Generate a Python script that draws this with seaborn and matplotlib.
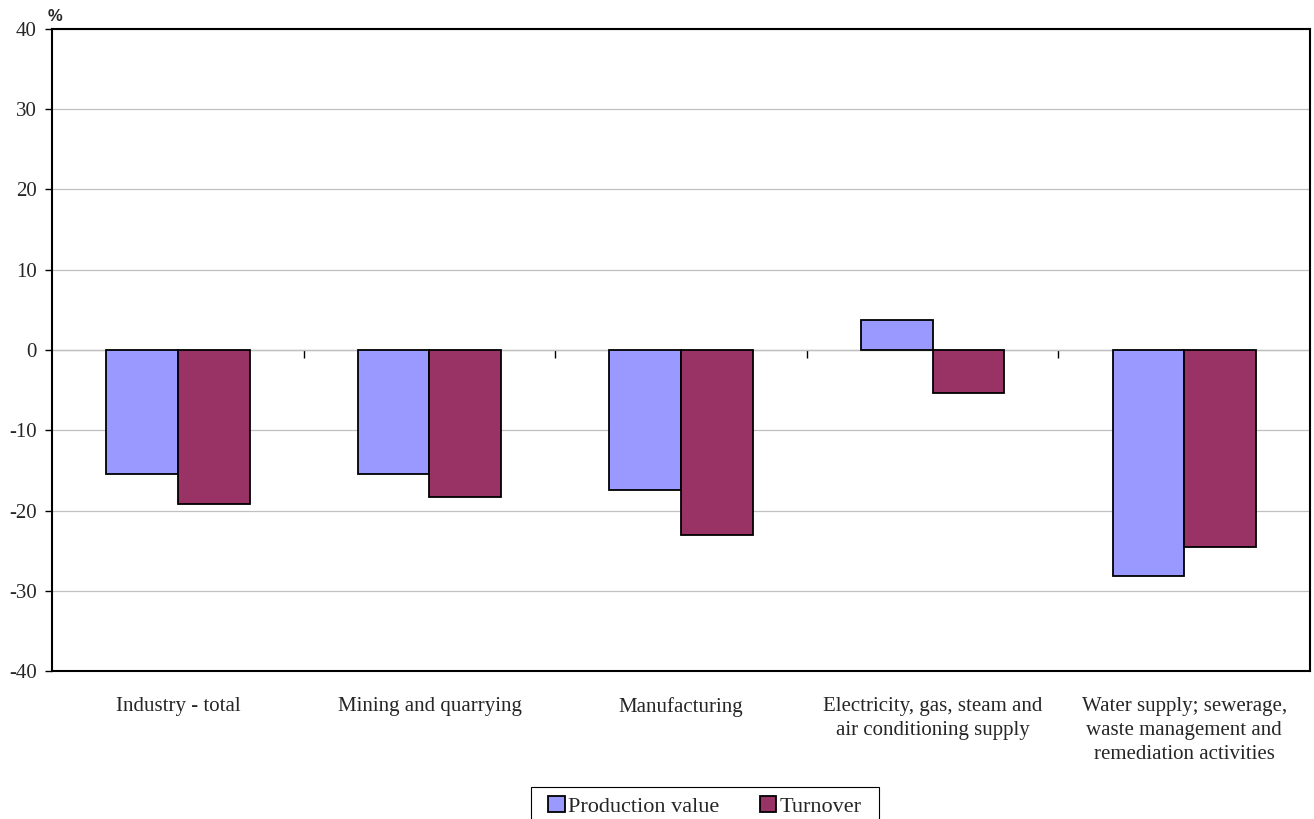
import pandas as pd
import numpy as np
import matplotlib.pyplot as plt
import matplotlib.patches as mpatches
import seaborn as sns

categories = [
    "Industry - total",
    "Mining and quarrying",
    "Manufacturing",
    "Electricity, gas, steam and\nair conditioning supply",
    "Water supply; sewerage,\nwaste management and\nremediation activities",
]
production_value = [-15.4, -15.4, -17.4, 3.8, -28.2]
turnover = [-19.2, -18.3, -23.1, -5.4, -24.5]
series_names = ["Production value", "Turnover"]
colors = ["#9999FF", "#993366"]
y_ticks = [-40, -30, -20, -10, 0, 10, 20, 30, 40]

df = pd.DataFrame({
    "category": categories * 2,
    "value": production_value + turnover,
    "series": [series_names[0]] * len(categories) + [series_names[1]] * len(categories),
})

sns.set_style("white")
plt.rcParams["font.family"] = ["Liberation Serif", "DejaVu Serif"]

fig = plt.figure(figsize=(13.14, 8.19), dpi=100)
ax = fig.add_axes([0.0396, 0.1807, 0.9574, 0.7839])

sns.barplot(data=df, x="category", y="value", hue="series", palette=colors,
            width=0.57, gap=0, edgecolor="black", linewidth=1.3,
            saturation=1, legend=True, ax=ax)

ax.set_ylim(-40, 40)
ax.set_xlim(-0.5, len(categories) - 0.5)
ax.set_yticks(y_ticks)
ax.set_yticklabels([str(t) for t in y_ticks], fontsize=15)
ax.yaxis.grid(True, color="#C0C0C0", linewidth=0.9)
ax.set_axisbelow(True)
ax.set_xlabel("")
ax.set_ylabel("")
ax.tick_params(axis="y", direction="out", length=5, width=1, left=True, color="black", pad=6)
ax.tick_params(axis="x", length=0, pad=19, labelsize=15)
for lbl in ax.get_xticklabels():
    lbl.set_linespacing(1.35)

for s in ax.spines.values():
    s.set_visible(True)
    s.set_color("black")
    s.set_linewidth(1.5)

# zero line with category boundary ticks pointing down
sec = ax.secondary_xaxis(0.5)
sec.set_xticks(np.arange(0.5, len(categories) - 0.5, 1.0))
sec.set_xticklabels([])
sec.tick_params(direction="in", length=6, width=1, color="black")
sec.spines["bottom"].set_linewidth(1)
sec.spines["bottom"].set_color("black")

handles, labels = ax.get_legend_handles_labels()
ax.get_legend().remove()
leg = fig.legend(handles, labels, loc="upper center", bbox_to_anchor=(0.5365, 0.028),
                 ncol=2, frameon=False, fontsize=16,
                 handlelength=0.75, handleheight=0.7, handletextpad=0.15,
                 columnspacing=1.8, borderpad=0.0, borderaxespad=0)

# legend frame: wider horizontal padding than vertical, like the original
fig.canvas.draw()
bb = leg.get_window_extent().transformed(fig.transFigure.inverted())
padx = 17 / 1314
frame = mpatches.Rectangle((bb.x0 - padx, -0.01), bb.width + 2 * padx, 0.049,
                           transform=fig.transFigure, fill=False,
                           edgecolor="black", linewidth=0.8)
fig.add_artist(frame)

fig.text(0.0415, 0.980, "%", ha="center", va="center", fontsize=12,
         fontweight="bold", family=["Liberation Sans", "DejaVu Sans"])

fig.savefig("out.png", dpi=100)
